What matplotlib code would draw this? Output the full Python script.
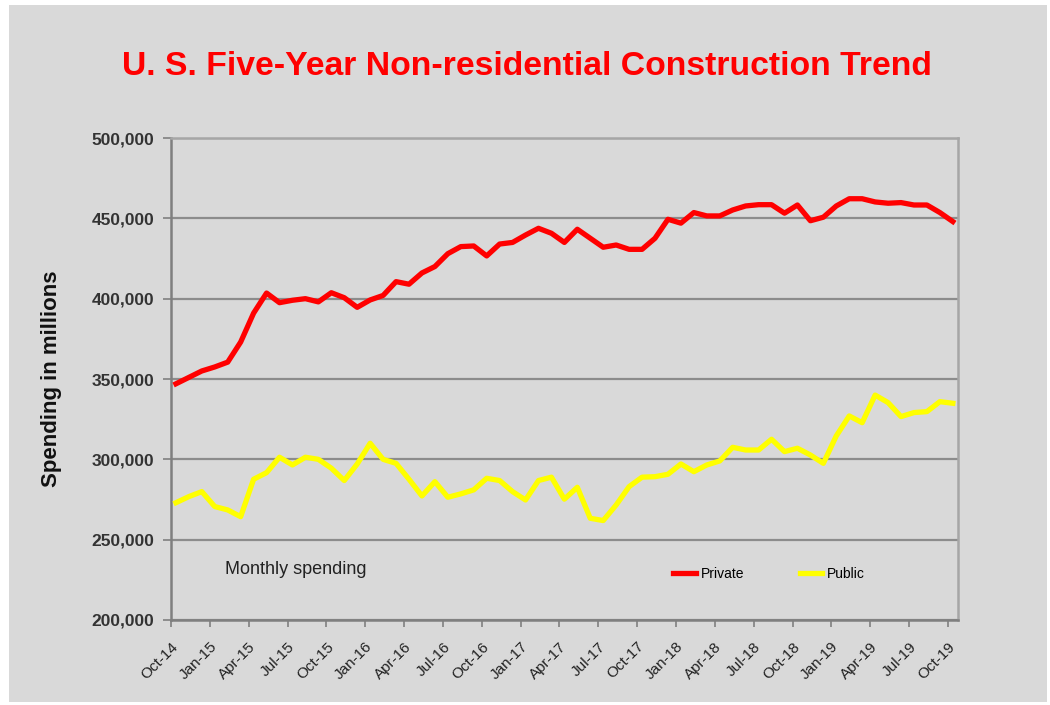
import numpy as np
import matplotlib
matplotlib.use("Agg")
import matplotlib.pyplot as plt
from matplotlib.patches import Rectangle
from matplotlib.ticker import FuncFormatter
from matplotlib.transforms import ScaledTranslation

# ---- data (values read in thousands of $ millions) ----
private_k = [347, 351, 355, 357.5, 360.5, 373, 391, 403.5, 397.5, 399,
             400, 398, 403.7, 400.6, 394.6, 399.2, 402, 410.6, 409, 416,
             420, 428, 432.4, 432.8, 426.6, 434, 435, 439.6, 443.8, 440.7,
             435, 443.2, 437.6, 432, 433.4, 430.7, 430.7, 437.6, 449.4, 447,
             453.6, 451.5, 451.5, 455.2, 457.7, 458.5, 458.5, 453.2, 458.3, 448.5,
             450.7, 457.7, 462.2, 462.2, 460.2, 459.4, 459.8, 458.3, 458.3, 453.6,
             448]
public_k = [273, 276.8, 279.9, 270.6, 268.5, 264.3, 287.6, 291.7, 301.3, 296.5,
            301.3, 300, 294.5, 286.8, 297.1, 310, 300, 297.5, 287.6, 277.2,
            286.1, 276.4, 278.5, 281, 288.2, 286.8, 279.9, 274.7, 286.8, 288.9,
            275.2, 282.6, 263.3, 261.9, 271.6, 283, 288.9, 289.2, 290.7, 297.1,
            292.3, 296.5, 299, 307.5, 305.8, 305.8, 312.5, 304.8, 306.9, 302.7,
            297.5, 314.6, 327, 322.8, 340, 335.3, 326.6, 329.1, 329.7, 335.9,
            334.9]
private = [v * 1000 for v in private_k]
public = [v * 1000 for v in public_k]
tick_labels = ["Oct-14", "Jan-15", "Apr-15", "Jul-15", "Oct-15", "Jan-16", "Apr-16",
               "Jul-16", "Oct-16", "Jan-17", "Apr-17", "Jul-17", "Oct-17", "Jan-18",
               "Apr-18", "Jul-18", "Oct-18", "Jan-19", "Apr-19", "Jul-19", "Oct-19"]
series_names = ["Private", "Public"]

plt.rcParams['font.family'] = ['Liberation Sans', 'DejaVu Sans']

fig = plt.figure(figsize=(10.5, 7.05), dpi=100, facecolor='white')
bg = '#D9D9D9'
fig.patches.append(Rectangle((9 / 1050, 3 / 705), 1038 / 1050, 697 / 705,
                             transform=fig.transFigure, facecolor=bg,
                             edgecolor='none', zorder=-10))

ax = fig.add_axes([171 / 1050, 1 - 620 / 705, 787 / 1050, 482 / 705])
ax.set_facecolor(bg)

x = np.arange(len(private))
ax.plot(x, private, color='#FF0000', lw=3.8, label=series_names[0],
        solid_joinstyle='round', zorder=3)
ax.plot(x, public, color='#FFFF00', lw=3.8, label=series_names[1],
        solid_joinstyle='round', zorder=3)

ax.set_ylim(200000, 500000)
ax.set_xlim(-0.31, 60.4)
ax.set_yticks(np.arange(200000, 500001, 50000))
ax.yaxis.set_major_formatter(FuncFormatter(lambda v, p: f"{int(v):,}"))
ax.set_xticks(np.arange(0, len(private), 3) - 0.38)
ax.set_xticklabels(tick_labels, rotation=45, ha='right', rotation_mode='anchor',
                   fontsize=11, color='#222222')
offset = ScaledTranslation(9 / 100, 0, fig.dpi_scale_trans)
for lab in ax.get_xticklabels():
    lab.set_transform(lab.get_transform() + offset)
for lab in ax.get_yticklabels():
    lab.set_fontweight('bold')
    lab.set_fontsize(12.5)
    lab.set_color('#333333')

ax.grid(axis='y', color='#8C8C8C', lw=1.6, zorder=1)
ax.set_axisbelow(True)
ax.tick_params(axis='y', direction='out', length=6, width=1.2, color='#808080', pad=6)
ax.tick_params(axis='x', direction='out', length=5, width=1.2, color='#808080', pad=9)
for side in ['left', 'bottom']:
    ax.spines[side].set_color('#7F7F7F')
    ax.spines[side].set_linewidth(1.8)
for side in ['top', 'right']:
    ax.spines[side].set_color('#A6A6A6')
    ax.spines[side].set_linewidth(1.8)

ax.set_ylabel("Spending in millions", fontsize=16, fontweight='bold',
              color='#111111', labelpad=21)

fig.text(0.502, 0.905, "U. S. Five-Year Non-residential Construction Trend",
         ha='center', va='center', color='#FF0000', fontsize=24.3,
         fontweight='bold')

ax.text(0.0686, 0.104, "Monthly spending", transform=ax.transAxes,
        ha='left', va='center', fontsize=13, color='#222222')

ax.legend(loc='center', bbox_to_anchor=(0.76, 0.096), ncol=2, frameon=False,
          fontsize=10, handlelength=1.6, columnspacing=4.0, handletextpad=0.36)

fig.savefig("out.png", dpi=100, facecolor='white')
